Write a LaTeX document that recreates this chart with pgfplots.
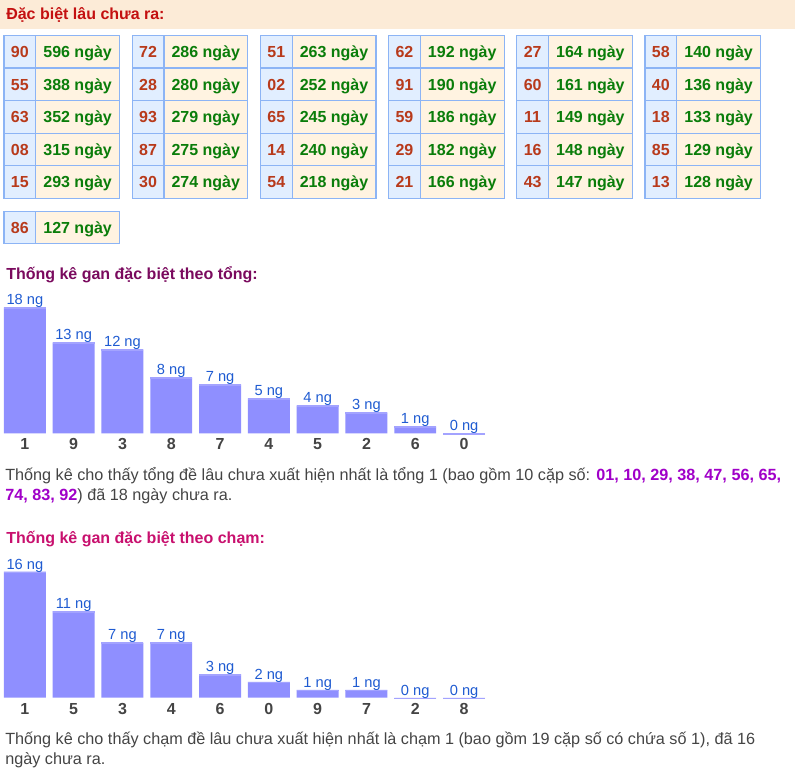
\documentclass[border=0pt]{standalone}
\usepackage{fontspec}
\setmainfont{Liberation Sans}
\usepackage{pgfplots}
\pgfplotsset{compat=1.18}

\definecolor{headbg}{HTML}{FCEBD7}
\definecolor{titlered}{HTML}{C41010}
\definecolor{tabline}{HTML}{8CB4F5}
\definecolor{numbg}{HTML}{E1EEFF}
\definecolor{valbg}{HTML}{FFF3E1}
\definecolor{numcol}{HTML}{B83A1B}
\definecolor{valcol}{HTML}{0A7D0A}
\definecolor{titlepurp}{HTML}{7A0A5E}
\definecolor{titlepink}{HTML}{C8106E}
\definecolor{barfill}{HTML}{8F8FFF}
\definecolor{bartop}{HTML}{A3A3FF}
\definecolor{barlabel}{HTML}{1F5BD1}
\definecolor{graytext}{HTML}{444444}
\definecolor{purp}{HTML}{A000C8}

\newcommand\fbig{\fontsize{12}{14.4}\selectfont}
\newcommand\fpara{\fontsize{12.16}{14.6}\selectfont}
\newcommand\fsmall{\fontsize{11}{13}\selectfont}

% one table row: left px, top px, number, days
\newcommand\cell[4]{%
  \filldraw[fill=numbg,draw=tabline,line width=0.9pt] (#1,{774-(#2)}) rectangle ({#1+31.7},{774-(#2)-32.6});
  \filldraw[fill=valbg,draw=tabline,line width=0.9pt] ({#1+31.7},{774-(#2)}) rectangle ({#1+115.5},{774-(#2)-32.6});
  \node[anchor=base,inner sep=0,text=numcol,font=\fbig\bfseries] at ({#1+15.85},{774-(#2)-22}) {#3};
  \node[anchor=base,inner sep=0,text=valcol,font=\fbig\bfseries] at ({#1+73.6},{774-(#2)-22}) {#4 ngày};
}

\pgfplotsset{
  ganbars/.style={
    scale only axis, width=366pt, height=94.5pt,
    xmin=-0.5, xmax=9.5, ymin=0, clip=false,
    axis line style={draw=none}, major tick length=0, ytick=\empty,
    xtick={0,...,9},
    xticklabel style={anchor=base, inner sep=0, yshift=-12.3pt, font=\fbig\bfseries, text=graytext},
  },
  barstyle/.style={ybar, bar width=0.86, fill=barfill, draw=none,
    nodes near coords={\pgfmathprintnumber[assume math mode=true]{\pgfplotspointmeta} ng},
    nodes near coords align={anchor=base},
    every node near coord/.append style={anchor=base, inner sep=0, yshift=2pt, font=\fsmall, text=barlabel}},
  topstyle/.style={only marks, mark=-, mark size=15.75pt, mark options={line width=1.2pt, draw=bartop, yshift=-0.5pt}},
}

\begin{document}
\begin{tikzpicture}[x=0.75pt,y=0.75pt]
\useasboundingbox (0,0) rectangle (795,774);

% header band
\fill[headbg] (0,774) rectangle (795,745);
\node[anchor=base west,inner sep=0,text=titlered,font=\fbig\bfseries] at (6,754.3) {Đặc biệt lâu chưa ra:};

% tables
\foreach \xl/\col in {
  4/{90/596,55/388,63/352,08/315,15/293},
  132.2/{72/286,28/280,93/279,87/275,30/274},
  260.4/{51/263,02/252,65/245,14/240,54/218},
  388.6/{62/192,91/190,59/186,29/182,21/166},
  516.8/{27/164,60/161,11/149,16/148,43/147},
  645/{58/140,40/136,18/133,85/129,13/128}}{
  \foreach \n/\v [count=\r from 0] in \col {
    \pgfmathsetmacro\yt{35.5+\r*32.6}
    \cell{\xl}{\yt}{\n}{\v}
  }
}
\cell{4}{211.2}{86}{127}

% chart by sum
\node[anchor=base west,inner sep=0,text=titlepurp,font=\fbig\bfseries] at (6,{774-279.7}) {Thống kê gan đặc biệt theo tổng:};
\begin{axis}[ganbars, at={(0.34pt,255.5pt)}, anchor=south west, ymax=18,
  xticklabels={1,9,3,8,7,4,5,2,6,0}]
\addplot[barstyle] coordinates {(0,18) (1,13) (2,12) (3,8) (4,7) (5,5) (6,4) (7,3) (8,1) (9,0)};
\addplot[topstyle] coordinates {(0,18) (1,13) (2,12) (3,8) (4,7) (5,5) (6,4) (7,3) (8,1) (9,0)};
\end{axis}
\node[anchor=base west,inner sep=0,text=graytext,font=\fpara] at (5,{774-480.5})
  {Thống kê cho thấy tổng đề lâu chưa xuất hiện nhất là tổng 1 (bao gồm 10 cặp số: \textcolor{purp}{\bfseries 01, 10, 29, 38, 47, 56, 65,}};
\node[anchor=base west,inner sep=0,text=graytext,font=\fpara] at (5,{774-500.5})
  {\textcolor{purp}{\bfseries 74, 83, 92}) đã 18 ngày chưa ra.};

% chart by digit
\node[anchor=base west,inner sep=0,text=titlepink,font=\fbig\bfseries] at (6,{774-543.7}) {Thống kê gan đặc biệt theo chạm:};
\begin{axis}[ganbars, at={(0.34pt,57.2pt)}, anchor=south west, ymax=16,
  xticklabels={1,5,3,4,6,0,9,7,2,8}]
\addplot[barstyle] coordinates {(0,16) (1,11) (2,7) (3,7) (4,3) (5,2) (6,1) (7,1) (8,0) (9,0)};
\addplot[topstyle] coordinates {(0,16) (1,11) (2,7) (3,7) (4,3) (5,2) (6,1) (7,1) (8,0) (9,0)};
\end{axis}
\node[anchor=base west,inner sep=0,text=graytext,font=\fpara] at (5,{774-744})
  {Thống kê cho thấy chạm đề lâu chưa xuất hiện nhất là chạm 1 (bao gồm 19 cặp số có chứa số 1), đã 16};
\node[anchor=base west,inner sep=0,text=graytext,font=\fpara] at (5,{774-764.5})
  {ngày chưa ra.};
\end{tikzpicture}
\end{document}
